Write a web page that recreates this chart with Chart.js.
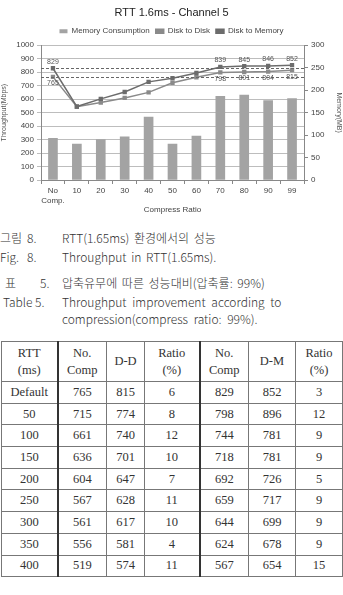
<!DOCTYPE html>
<html>
<head>
<meta charset="utf-8">
<script src="https://cdn.jsdelivr.net/npm/chart.js@4.4.0/dist/chart.umd.min.js"></script>
<style>
  body { margin: 0; width: 343px; height: 595px; background: #fff; position: relative; overflow: hidden; }
  #wrap { position: absolute; left: 0; top: 0; width: 343px; height: 215px; }
  .cap { position: absolute; font-family: "Noto Sans CJK KR", "Noto Sans", sans-serif; font-size: 12px; color: #333; white-space: nowrap; font-weight: 300; }
  table { position: absolute; left: 1px; top: 341px; border-collapse: collapse; table-layout: fixed;
          font-family: "Liberation Serif", "DejaVu Serif", serif; font-size: 12.5px; color: #333; font-weight: normal; }
  td { border: 1px solid #777; text-align: center; padding: 0; line-height: 13px; font-weight: normal; }
  tr { height: 21.7px; }
  tr.head { height: 40px; }
  tr.head td { line-height: 17px; }
  td.thick { border-right: 2px solid #333; }
</style>
</head>
<body>
<div id="wrap"><canvas id="chartId" width="343" height="215"></canvas></div>

<div class="cap" style="left:0px;top:229px">그림</div>
<div class="cap" style="left:27px;top:229px">8.</div>
<div class="cap" style="left:62px;top:229px;word-spacing:2px">RTT(1.65ms) 환경에서의 성능</div>
<div class="cap" style="left:0px;top:248px">Fig.</div>
<div class="cap" style="left:27px;top:248px">8.</div>
<div class="cap" style="left:62px;top:248px;word-spacing:2px">Throughput in RTT(1.65ms).</div>
<div class="cap" style="left:5px;top:274px">표</div>
<div class="cap" style="left:40px;top:274px">5.</div>
<div class="cap" style="left:62px;top:274px;word-spacing:2px">압축유무에 따른 성능대비(압축률: 99%)</div>
<div class="cap" style="left:3px;top:293px">Table 5.</div>
<div class="cap" style="left:62px;top:293px;word-spacing:3px">Throughput improvement according to</div>
<div class="cap" style="left:62px;top:310px;word-spacing:3px">compression(compress ratio: 99%).</div>

<table id="tbl">
  <colgroup>
    <col style="width:56px"><col style="width:49px"><col style="width:38px"><col style="width:55px">
    <col style="width:49px"><col style="width:47px"><col style="width:47px">
  </colgroup>
</table>

<script>
// chart data
const categories = [['No', 'Comp.'], '10', '20', '30', '40', '50', '60', '70', '80', '90', '99'];
const memoryConsumption = [93, 80, 90, 96, 140, 80, 98, 186, 189, 177, 181];
const diskToDisk = [765, 543, 575, 609, 650, 721, 762, 798, 801, 804, 815];
const diskToMemory = [829, 545, 602, 653, 728, 755, 794, 839, 845, 846, 852];
const labelIdx = [0, 7, 8, 9, 10];

// table data
const tableHead = [['RTT', '(ms)'], ['No.', 'Comp'], ['D-D'], ['Ratio', '(%)'], ['No.', 'Comp'], ['D-M'], ['Ratio', '(%)']];
const rttRows = ['Default', '50', '100', '150', '200', '250', '300', '350', '400'];
const ddNoComp = [765, 715, 661, 636, 604, 567, 561, 556, 519];
const ddComp = [815, 774, 740, 701, 647, 628, 617, 581, 574];
const ddRatio = [6, 8, 12, 10, 7, 11, 10, 4, 11];
const dmNoComp = [829, 798, 744, 718, 692, 659, 644, 624, 567];
const dmComp = [852, 896, 781, 781, 726, 717, 699, 678, 654];
const dmRatio = [3, 12, 9, 9, 5, 9, 9, 9, 15];

// build table
const tbl = document.getElementById('tbl');
function addRow(cells, cls) {
  const tr = document.createElement('tr');
  if (cls) tr.className = cls;
  cells.forEach((c, i) => {
    const td = document.createElement('td');
    td.innerHTML = Array.isArray(c) ? c.join('<br>') : c;
    if (i === 0 || i === 3) td.classList.add('thick');
    tr.appendChild(td);
  });
  tbl.appendChild(tr);
}
addRow(tableHead, 'head');
for (let i = 0; i < rttRows.length; i++) {
  addRow([rttRows[i], ddNoComp[i], ddComp[i], ddRatio[i], dmNoComp[i], dmComp[i], dmRatio[i]]);
}

// data labels + dashed baselines
const extras = {
  id: 'extras',
  afterDatasetsDraw(chart) {
    const ctx = chart.ctx;
    const y = chart.scales.y;
    const area = chart.chartArea;
    ctx.save();
    // dashed reference lines at the no-comp values
    ctx.strokeStyle = '#666';
    ctx.lineWidth = 1;
    ctx.setLineDash([3, 2]);
    [diskToMemory[0], diskToDisk[0]].forEach(v => {
      const py = Math.round(y.getPixelForValue(v)) + 0.5;
      ctx.beginPath();
      ctx.moveTo(area.left, py);
      ctx.lineTo(area.right, py);
      ctx.stroke();
    });
    ctx.setLineDash([]);
    ctx.font = '7px "Liberation Sans", Arial, sans-serif';
    ctx.fillStyle = '#555';
    ctx.textAlign = 'center';
    const ddMeta = chart.getDatasetMeta(1);
    const dmMeta = chart.getDatasetMeta(2);
    labelIdx.forEach(i => {
      const pu = dmMeta.data[i];
      ctx.textBaseline = 'bottom';
      ctx.fillText(diskToMemory[i], pu.x, pu.y - 3);
      const pl = ddMeta.data[i];
      ctx.textBaseline = 'top';
      ctx.fillText(diskToDisk[i], pl.x, pl.y + 3);
    });
    ctx.restore();
  }
};

const ctx = document.getElementById('chartId').getContext('2d');
const newChart = new Chart(ctx, {
  type: 'bar',
  data: {
    labels: categories,
    datasets: [{
      type: 'bar',
      label: 'Memory Consumption',
      data: memoryConsumption,
      yAxisID: 'y1',
      backgroundColor: '#a3a3a3',
      barThickness: 9,
      order: 3
    }, {
      type: 'line',
      label: 'Disk to Disk',
      data: diskToDisk,
      yAxisID: 'y',
      borderColor: '#8a8a8a',
      backgroundColor: '#8a8a8a',
      borderWidth: 1.5,
      pointStyle: 'rect',
      pointRadius: 2,
      order: 2
    }, {
      type: 'line',
      label: 'Disk to Memory',
      data: diskToMemory,
      yAxisID: 'y',
      borderColor: '#6c6c6c',
      backgroundColor: '#6c6c6c',
      borderWidth: 1.5,
      pointStyle: 'rect',
      pointRadius: 2,
      order: 1
    }]
  },
  options: {
    responsive: false,
    animation: false,
    layout: { padding: { top: 4, left: 0, right: 0, bottom: 0 } },
    plugins: {
      title: {
        display: true,
        text: 'RTT 1.6ms - Channel 5',
        color: '#222',
        font: { family: 'Liberation Sans', size: 11, weight: 'normal' },
        padding: { top: 2, bottom: 2 }
      },
      legend: {
        labels: {
          color: '#444',
          font: { family: 'Liberation Sans', size: 8 },
          boxWidth: 8,
          boxHeight: 4,
          padding: 6,
          sort: (a, b) => a.datasetIndex - b.datasetIndex
        }
      },
      tooltip: { enabled: false }
    },
    scales: {
      x: {
        offset: true,
        grid: { offset: true, drawOnChartArea: false, tickLength: 4, color: '#888' },
        border: { color: '#888' },
        ticks: { autoSkip: false, color: '#444', font: { family: 'Liberation Sans', size: 8 }, maxRotation: 0, padding: 2 },
        title: { display: true, text: 'Compress Ratio', color: '#444', font: { family: 'Liberation Sans', size: 8 }, padding: { top: 2, bottom: 0 } },
        afterFit(scale) { scale.height = 35; }
      },
      y: {
        position: 'left',
        min: 0, max: 1000,
        ticks: { stepSize: 100, color: '#444', font: { family: 'Liberation Sans', size: 8 }, padding: 3, callback: v => v },
        grid: { color: '#bdbdbd', tickLength: 4 },
        border: { color: '#888' },
        title: { display: true, text: 'Throughput(Mbps)', color: '#555', font: { family: 'Liberation Sans', size: 7 }, padding: 0 },
        afterFit(scale) { scale.width = 41; }
      },
      y1: {
        position: 'right',
        min: 0, max: 300,
        ticks: { stepSize: 50, color: '#444', font: { family: 'Liberation Sans', size: 8 }, padding: 3 },
        grid: { drawOnChartArea: false, tickLength: 4, color: '#888' },
        border: { color: '#888' },
        title: { display: true, text: 'Memory(MB)', color: '#555', font: { family: 'Liberation Sans', size: 7 }, padding: 0 },
        afterFit(scale) { scale.width = 39; }
      }
    }
  },
  plugins: [extras]
});
</script>
</body>
</html>
